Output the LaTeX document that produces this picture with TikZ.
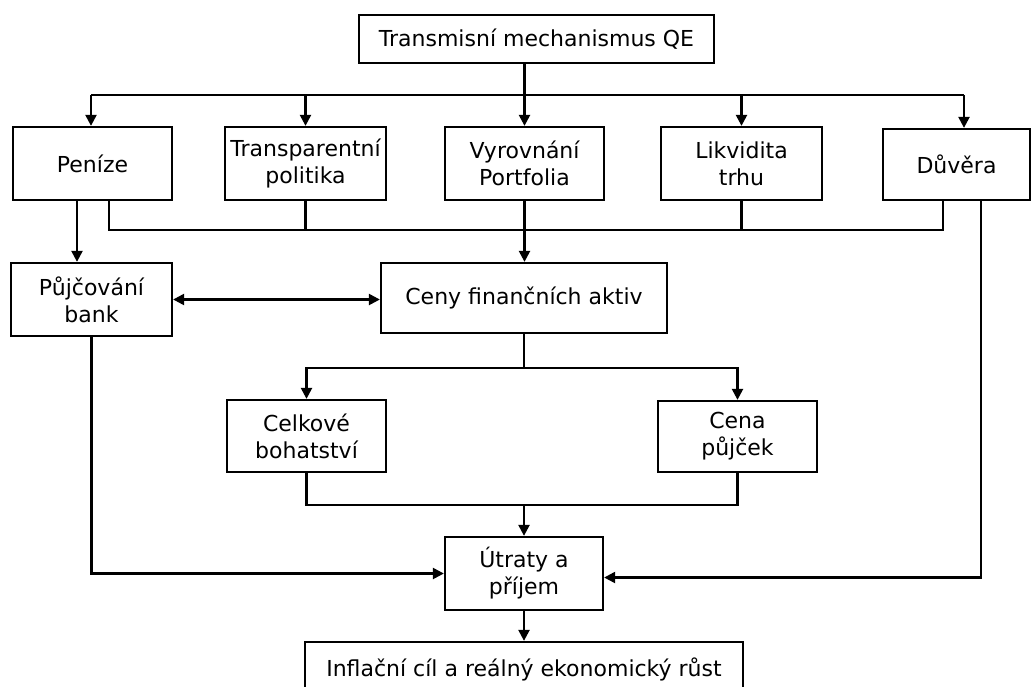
\documentclass[tikz,border=0pt]{standalone}
\usepackage{fontspec}
\setmainfont{DejaVu Sans}
\usetikzlibrary{arrows.meta,calc}
\begin{document}
\begin{tikzpicture}[x=1pt,y=-1pt,
  box/.style={draw,line width=2.3pt,align=center,inner sep=0pt,text=black,font=\fontsize{22}{27}\selectfont},
  conn/.style={line width=2.3pt},
  tip/.tip={Triangle[length=11pt,width=11pt]},
  arr/.style={conn,-tip},
  darr/.style={conn,tip-tip},
]
\useasboundingbox (0,0) rectangle (1033,686);
\clip (0,0) rectangle (1033,686);
\fill[white] (0,0) rectangle (1033,686);

\node[box,minimum width=355pt,minimum height=48pt] (top) at (536.5,39) {Transmisní mechanismus QE};
\node[box,minimum width=159pt,minimum height=73pt] (pen) at (92.5,163.5) {Peníze};
\node[box,minimum width=161pt,minimum height=73pt] (tra) at (305.5,163.5) {Transparentní\\politika};
\node[box,minimum width=159pt,minimum height=73pt] (vyr) at (524.5,163.5) {Vyrovnání\\Portfolia};
\node[box,minimum width=161pt,minimum height=73pt] (lik) at (741.5,163.5) {Likvidita\\trhu};
\node[box,minimum width=147pt,minimum height=71pt] (duv) at (956.5,164.5) {Důvěra};
\node[box,minimum width=161pt,minimum height=73pt] (puj) at (91.5,299.5) {Půjčování\\bank};
\node[box,minimum width=286pt,minimum height=70pt] (cen) at (524,298) {Ceny finančních aktiv};
\node[box,minimum width=159pt,minimum height=72pt] (cel) at (306.5,436) {Celkové\\bohatství};
\node[box,minimum width=159pt,minimum height=71pt] (cpu) at (737.5,436.5) {Cena\\půjček};
\node[box,minimum width=158pt,minimum height=73pt] (utr) at (524,573.5) {Útraty a\\příjem};
\node[box,minimum width=438pt,minimum height=54pt] (inf) at (524,669) {Inflační cíl a reálný ekonomický růst};

% top distribution
\coordinate (busL) at (91,95);
\coordinate (busR) at (964,95);
\draw[conn] (top.south -| vyr.north) -- (vyr.north |- busL);
\draw[arr] (vyr.north |- busL) -- (vyr.north);
\draw[conn] (busL) -- (busR);
\draw[arr] (busL) -- (busL |- pen.north);
\draw[arr] (tra.north |- busL) -- (tra.north);
\draw[arr] (lik.north |- busL) -- (lik.north);
\draw[arr] (busR) -- (busR |- duv.north);

% second bus
\coordinate (b2L) at (109,230);
\coordinate (b2R) at (943,230);
\draw[conn] (b2L |- pen.south) -- (b2L) -- (b2R) -- (b2R |- duv.south);
\draw[conn] (tra.south) -- (tra.south |- b2L);
\draw[conn] (lik.south) -- (lik.south |- b2L);
\draw[arr] (vyr.south) -- (vyr.south |- cen.north);

% Penize -> Pujcovani
\coordinate (pp) at (77,200);
\draw[arr] (pp) -- (pp |- puj.north);
\draw[darr] (puj.east) -- (puj.east -| cen.west);

% Ceny branches
\path (cen.south) ++(0,34) coordinate (cj);
\draw[conn] (cen.south) -- (cj);
\draw[arr] (cj) -| (cel.north);
\draw[arr] (cj) -| (cpu.north);

\coordinate (j2) at (524,505);
\draw[conn] (cel.south) |- (j2);
\draw[conn] (cpu.south) |- (j2);
\draw[arr] (j2) -- (utr.north);

% side feeds
\draw[arr] (puj.south) |- (utr.west);
\coordinate (dr) at (981,200);
\draw[arr] (dr) |- ($(utr.east)+(0,4)$);
\draw[arr] (utr.south) -- (inf.north);
\end{tikzpicture}
\end{document}
